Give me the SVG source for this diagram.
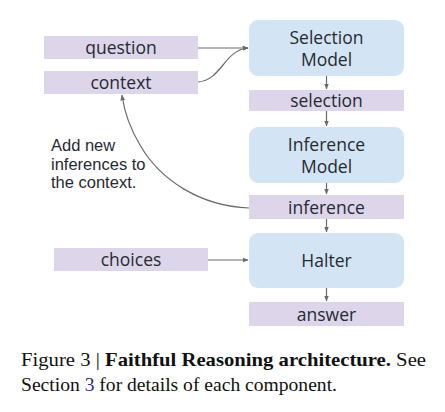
<svg xmlns="http://www.w3.org/2000/svg" width="445" height="412" viewBox="0 0 445 412">
<defs>
<style>
.inp{fill:#ddd5ea}
.mdl{fill:#d3e5f4}
.t{font-family:"Open Sans","Liberation Sans",sans-serif;font-size:17.5px;fill:#262a33;text-anchor:middle}
.note{font-family:"Liberation Sans","Open Sans",sans-serif;font-size:16.5px;fill:#262a33}
.cap{font-family:"Liberation Serif","DejaVu Serif",serif;font-size:19.5px;fill:#111}
.c{fill:none;stroke:#6b6b6b;stroke-width:1.2}
</style>
<marker id="ah" viewBox="0 0 10 10" refX="9" refY="5" markerWidth="6" markerHeight="6" orient="auto-start-reverse" markerUnits="userSpaceOnUse">
<path d="M0,1 L10,5 L0,9 z" fill="#6b6b6b"/>
</marker>
</defs>
<rect width="445" height="412" fill="#ffffff"/>
<g id="question"><rect class="inp" x="44" y="36" width="154" height="23"/><text class="t" x="121" y="54">question</text></g>
<g id="context"><rect class="inp" x="44" y="71" width="154" height="23"/><text class="t" x="121" y="89">context</text></g>
<g id="selection-model"><rect class="mdl" x="249" y="20" width="155" height="56" rx="9"/><text class="t" x="326.5" y="43.5">Selection</text><text class="t" x="326.5" y="65.5">Model</text></g>
<g id="selection"><rect class="inp" x="249" y="90" width="155" height="21"/><text class="t" x="326.5" y="106.5">selection</text></g>
<g id="inference-model"><rect class="mdl" x="249" y="127" width="155" height="56" rx="9"/><text class="t" x="326.5" y="150.5">Inference</text><text class="t" x="326.5" y="172.5">Model</text></g>
<g id="inference"><rect class="inp" x="249" y="195" width="155" height="24"/><text class="t" x="326.5" y="213.5">inference</text></g>
<g id="halter"><rect class="mdl" x="249" y="233" width="155" height="55" rx="9"/><text class="t" x="326.5" y="266.5">Halter</text></g>
<g id="choices"><rect class="inp" x="54" y="248" width="154" height="23"/><text class="t" x="131" y="266">choices</text></g>
<g id="answer"><rect class="inp" x="249" y="302" width="155" height="24"/><text class="t" x="326.5" y="320.5">answer</text></g>
<g id="note"><text class="note" x="51" y="151">Add new</text><text class="note" x="51" y="169.5">inferences to</text><text class="note" x="51" y="188">the context.</text></g>
<g id="connectors">
<path class="c" d="M198,48 L248,48" marker-end="url(#ah)"/>
<path class="c" d="M198,82 C222,80 224,50 248,48" marker-end="url(#ah)"/>
<path class="c" d="M326.5,76 L326.5,89" marker-end="url(#ah)"/>
<path class="c" d="M326.5,111 L326.5,126" marker-end="url(#ah)"/>
<path class="c" d="M326.5,183 L326.5,194" marker-end="url(#ah)"/>
<path class="c" d="M326.5,219 L326.5,232" marker-end="url(#ah)"/>
<path class="c" d="M326.5,288 L326.5,301" marker-end="url(#ah)"/>
<path class="c" d="M208,260 L248,260" marker-end="url(#ah)"/>
<path class="c" d="M249,208 C200,206 160,180 140,145 C128,125 124,110 122,95" marker-end="url(#ah)"/>
</g>
<g id="caption">
<text class="cap" x="21" y="366" textLength="405" lengthAdjust="spacingAndGlyphs">Figure 3 | <tspan font-weight="bold">Faithful Reasoning architecture.</tspan> See</text>
<text class="cap" x="21" y="391" textLength="316" lengthAdjust="spacingAndGlyphs">Section <tspan fill="#2b2a8c">3</tspan> for details of each component.</text>
</g>
</svg>
